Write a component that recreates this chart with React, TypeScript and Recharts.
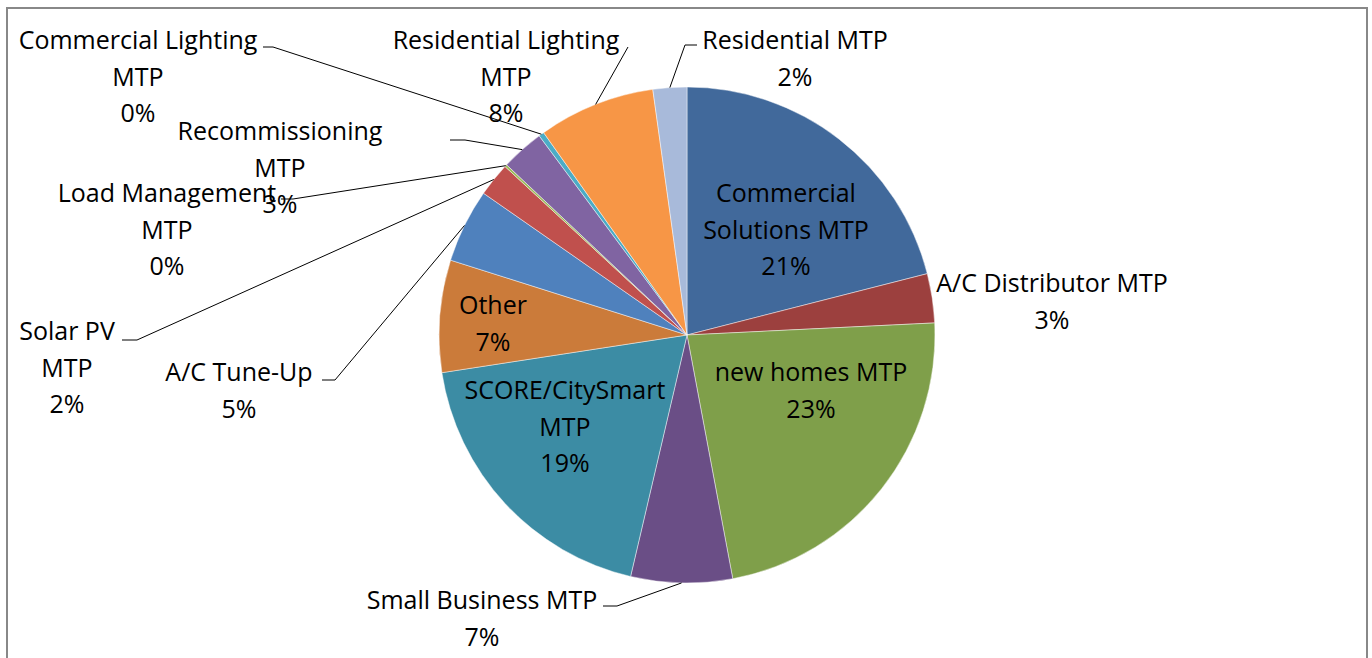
import React from "react";
import { PieChart, Pie, Cell } from "recharts";

// ---- data ----
const categories = [
  "Commercial Solutions MTP",
  "A/C Distributor MTP",
  "new homes MTP",
  "Small Business MTP",
  "SCORE/CitySmart MTP",
  "Other",
  "A/C Tune-Up",
  "Solar PV MTP",
  "Load Management MTP",
  "Recommissioning MTP",
  "Commercial Lighting MTP",
  "Residential Lighting MTP",
  "Residential MTP",
];

const shares = [21.0, 3.2, 22.8, 6.6, 18.9, 7.3, 4.8, 2.2, 0.15, 2.8, 0.35, 7.6, 2.2];

// wrapped label lines for each category (percent appended as last line)
const labelLines = [
  ["Commercial", "Solutions MTP"],
  ["A/C Distributor MTP"],
  ["new homes MTP"],
  ["Small Business MTP"],
  ["SCORE/CitySmart", "MTP"],
  ["Other"],
  ["A/C Tune-Up"],
  ["Solar PV", "MTP"],
  ["Load Management", "MTP"],
  ["Recommissioning", "MTP"],
  ["Commercial Lighting", "MTP"],
  ["Residential Lighting", "MTP"],
  ["Residential MTP"],
];

const colors = [
  "#41699B",
  "#9C403E",
  "#7F9F4A",
  "#6A4E86",
  "#3C8CA4",
  "#CB7B3A",
  "#4F81BD",
  "#C0504D",
  "#9BBB59",
  "#8064A2",
  "#4BACC6",
  "#F79646",
  "#A8BADA",
];

// ---- label layout (text centre x, first baseline y, optional leader hook) ----
type Layout = { x: number; y: number; hook?: [number, number, number] };
const labelLayout: Layout[] = [
  { x: 786, y: 202 },
  { x: 1052, y: 292 },
  { x: 811, y: 381 },
  { x: 482, y: 609, hook: [603, 617, 606] },
  { x: 565, y: 399 },
  { x: 493, y: 314 },
  { x: 239, y: 381, hook: [322, 335, 380] },
  { x: 67, y: 340, hook: [122, 137, 340] },
  { x: 167, y: 202, hook: [281, 293, 199] },
  { x: 280, y: 140, hook: [450, 465, 140] },
  { x: 138, y: 49, hook: [263, 273, 47] },
  { x: 506, y: 49, hook: [628, 628, 47] },
  { x: 795, y: 49, hook: [697, 685, 45] },
];

const data = categories.map((name, i) => ({ name, value: shares[i] }));

const FONT = "'Open Sans', sans-serif";
const FONT_SIZE = 25;
const LINE_H = 36.5;
const RADIAN = Math.PI / 180;

const renderLabel = (props: any) => {
  const { cx, cy, midAngle, outerRadius, index, percent } = props;
  const L = labelLayout[index];
  const lines = [...labelLines[index], `${Math.round(percent * 100)}%`];
  const ex = cx + outerRadius * Math.cos(-midAngle * RADIAN);
  const ey = cy + outerRadius * Math.sin(-midAngle * RADIAN);
  return (
    <g key={`lbl-${index}`}>
      {L.hook && (
        <polyline
          points={`${L.hook[0]},${L.hook[2]} ${L.hook[1]},${L.hook[2]} ${ex},${ey}`}
          fill="none"
          stroke="#000"
          strokeWidth={1}
        />
      )}
      <text
        x={L.x}
        y={L.y}
        textAnchor="middle"
        fill="#000"
        style={{ fontFamily: FONT, fontSize: FONT_SIZE }}
      >
        {lines.map((t, k) => (
          <tspan key={k} x={L.x} y={L.y + k * LINE_H}>
            {t}
          </tspan>
        ))}
      </text>
    </g>
  );
};

export default function App() {
  return (
    <div
      style={{
        position: "absolute",
        left: 0,
        top: 0,
        width: 1372,
        height: 658,
        overflow: "hidden",
        background: "#fff",
      }}
    >
      <div
        style={{
          position: "absolute",
          left: 6,
          top: 7,
          width: 1362,
          height: 700,
          border: "2px solid #888888",
          boxSizing: "border-box",
        }}
      />
      <div style={{ position: "absolute", left: 0, top: 0 }}>
        <PieChart width={1372} height={658} margin={{ top: 0, right: 0, bottom: 0, left: 0 }}>
          <Pie
            data={data}
            dataKey="value"
            nameKey="name"
            cx={687}
            cy={335}
            outerRadius={248}
            startAngle={90}
            endAngle={-270}
            stroke="#ffffff"
            strokeOpacity={0.45}
            strokeWidth={1}
            label={renderLabel}
            labelLine={false}
            isAnimationActive={false}
          >
            {data.map((d, i) => (
              <Cell key={d.name} fill={colors[i]} />
            ))}
          </Pie>
        </PieChart>
      </div>
    </div>
  );
}
